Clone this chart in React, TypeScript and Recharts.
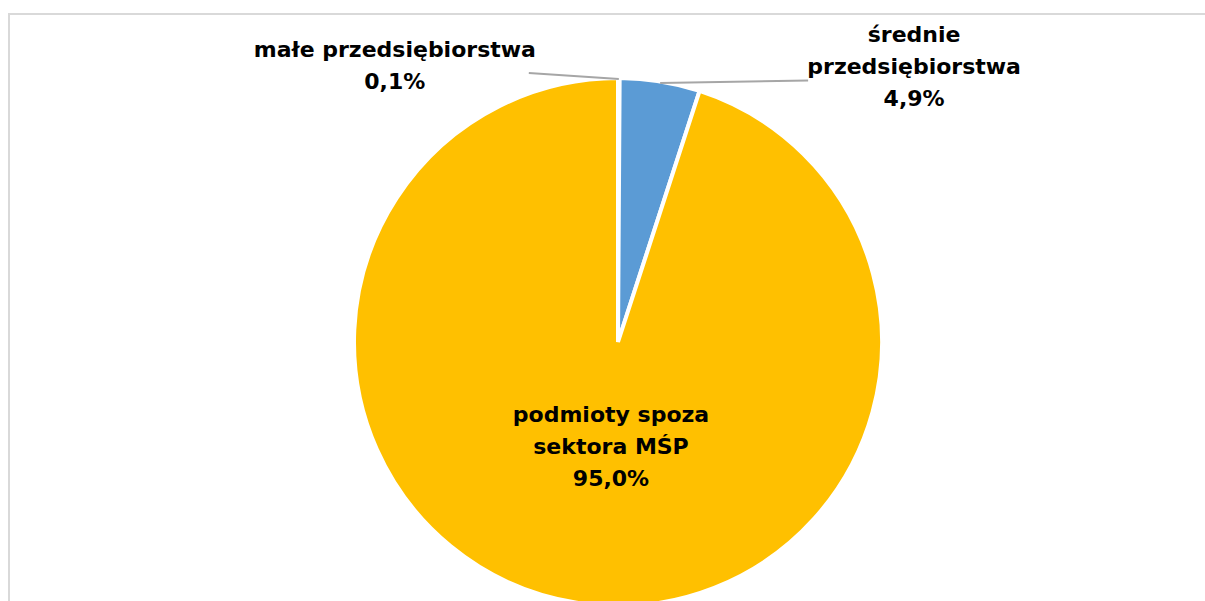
import React from 'react';
import { PieChart, Pie, Cell } from 'recharts';

const categories = ['małe przedsiębiorstwa', 'średnie przedsiębiorstwa', 'podmioty spoza sektora MŚP'];
const values = [0.1, 4.9, 95.0];
const labelRows = [
  ['małe przedsiębiorstwa'],
  ['średnie', 'przedsiębiorstwa'],
  ['podmioty spoza', 'sektora MŚP'],
];
const colors = ['#ED7D31', '#5B9BD5', '#FFC000'];

const data = categories.map((name, i) => ({ name, value: values[i] }));

const RADIAN = Math.PI / 180;
const FONT = '"DejaVu Sans", Verdana, sans-serif';

const fmt = (v: number) => v.toFixed(1).replace('.', ',') + '%';

const renderLabel = (props: any) => {
  const { cx, cy, midAngle, outerRadius, index } = props;
  const rows = [...labelRows[index], fmt(values[index])];
  const ex = cx + outerRadius * Math.cos(-midAngle * RADIAN);
  const ey = cy + outerRadius * Math.sin(-midAngle * RADIAN);

  let tx = cx;
  let ty = cy;
  let line: React.ReactNode = null;

  if (index === 0) {
    // label off to the upper left, leader line to the edge
    tx = ex - 224;
    ty = ey - 21;
    line = <polyline points={`${ex},${ey + 1} ${ex - 90},${ey - 5}`} fill="none" stroke="#A6A6A6" strokeWidth={2} />;
  } else if (index === 1) {
    tx = ex + 254;
    ty = ey - 39;
    line = <polyline points={`${ex},${ey + 1.5} ${ex + 148},${ey - 1}`} fill="none" stroke="#A6A6A6" strokeWidth={2} />;
  } else {
    tx = cx - 7;
    ty = cy + 80;
  }

  return (
    <g key={`lbl-${index}`}>
      {line}
      <text x={tx} y={ty} textAnchor="middle" fill="#000" fontFamily={FONT} fontWeight="bold" fontSize={22}>
        {rows.map((r, i) => (
          <tspan key={i} x={tx} dy={i === 0 ? 0 : 32}>{r}</tspan>
        ))}
      </text>
    </g>
  );
};

export default function App() {
  return (
    <div style={{ position: 'fixed', left: 0, top: 0, width: 1205, height: 601, overflow: 'hidden', background: '#fff' }}>
      <div style={{ position: 'absolute', left: 8, top: 13, width: 1230, height: 640, border: '2px solid #D9D9D9', boxSizing: 'border-box' }} />
      <div style={{ position: 'absolute', left: 0, top: 0 }}>
        <PieChart width={1205} height={601} margin={{ top: 0, right: 0, bottom: 0, left: 0 }}>
          <Pie
            data={data}
            dataKey="value"
            nameKey="name"
            cx={618}
            cy={342}
            outerRadius={264}
            startAngle={90}
            endAngle={-270}
            stroke="#fff"
            strokeWidth={4}
            label={renderLabel}
            labelLine={false}
            isAnimationActive={false}
          >
            {data.map((d, i) => (
              <Cell key={d.name} fill={colors[i]} />
            ))}
          </Pie>
        </PieChart>
      </div>
    </div>
  );
}
